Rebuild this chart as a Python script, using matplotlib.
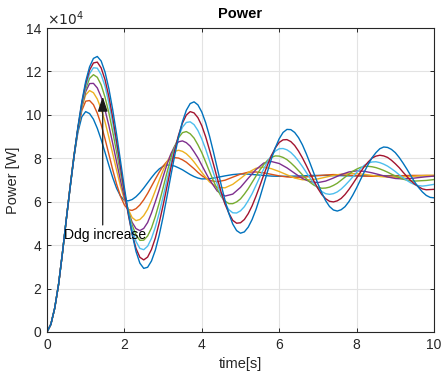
import numpy as np
import matplotlib
matplotlib.use("Agg")
import matplotlib.pyplot as plt

plt.rcParams['font.family'] = ['Liberation Sans', 'DejaVu Sans']

# sample times [s]
time_fine = np.round(np.arange(0, 10.01, 0.1), 2)
time_coarse = np.round(np.concatenate([np.arange(0, 4.01, 0.1), np.arange(4.2, 10.01, 0.2)]), 2)

# power traces, units of 1e4 W (Ddg increasing from p1 to p8)
# p1..p4 on time_coarse
p1 = [0, 0.35, 1.1, 2.2, 3.65, 5.2, 6.73, 8.11, 9.20, 9.91, 10.15,
      10.06, 9.80, 9.38, 8.86, 8.27, 7.67, 7.10, 6.61, 6.26, 6.06,
      6.04, 6.10, 6.23, 6.41, 6.63, 6.87, 7.11, 7.33, 7.51, 7.63, 7.69,
      7.68, 7.64, 7.56, 7.47, 7.36, 7.25, 7.16, 7.09, 7.05,
      7.06, 7.12, 7.19, 7.25, 7.28, 7.27, 7.24, 7.21, 7.18, 7.17, 7.17, 7.18, 7.19, 7.21, 7.21,
      7.21, 7.20, 7.20, 7.19, 7.19, 7.19, 7.20, 7.20, 7.20, 7.20, 7.20, 7.20, 7.20, 7.20, 7.20]
p2 = [0, 0.35, 1.1, 2.2, 3.65, 5.2, 6.75, 8.17, 9.35, 10.20, 10.63,
      10.66, 10.47, 10.08, 9.55, 8.89, 8.18, 7.46, 6.80, 6.25, 5.85, 5.63,
      5.60, 5.68, 5.85, 6.09, 6.38, 6.71, 7.04, 7.36, 7.64, 7.85, 7.98, 8.03,
      8.01, 7.93, 7.82, 7.67, 7.52, 7.35, 7.20,
      6.98, 6.92, 6.99, 7.13, 7.27, 7.36, 7.37, 7.33, 7.26, 7.19, 7.14, 7.12, 7.13, 7.16, 7.20,
      7.23, 7.25, 7.24, 7.22, 7.20, 7.18, 7.17, 7.17, 7.18, 7.19, 7.20, 7.21, 7.21, 7.21, 7.20]
p3 = [0, 0.35, 1.1, 2.2, 3.65, 5.2, 6.73, 8.16, 9.39, 10.33, 10.92, 11.12,
      11.02, 10.73, 10.27, 9.68, 8.96, 8.20, 7.44, 6.71, 6.09, 5.65, 5.27, 5.13,
      5.18, 5.36, 5.65, 6.05, 6.51, 6.99, 7.45, 7.84, 8.14, 8.32,
      8.37, 8.32, 8.21, 8.04, 7.83, 7.59, 7.35,
      6.91, 6.66, 6.64, 6.80, 7.07, 7.35, 7.54, 7.59, 7.52, 7.39, 7.24, 7.09, 7.01, 7.01, 7.05,
      7.13, 7.21, 7.27, 7.30, 7.29, 7.26, 7.21, 7.16, 7.13, 7.12, 7.14, 7.16, 7.19, 7.21, 7.22]
p4 = [0, 0.35, 1.1, 2.2, 3.65, 5.2, 6.70, 8.12, 9.36, 10.37, 11.07, 11.44,
      11.45, 11.24, 10.82, 10.22, 9.50, 8.67, 7.82, 6.97, 6.21, 5.55, 5.05, 4.76, 4.67,
      4.77, 5.04, 5.48, 6.00, 6.55, 7.15, 7.71, 8.20, 8.56, 8.76,
      8.80, 8.72, 8.56, 8.30, 8.02, 7.68,
      7.01, 6.49, 6.26, 6.35, 6.66, 7.08, 7.48, 7.78, 7.85, 7.76, 7.56, 7.31, 7.07, 6.92, 6.88,
      6.95, 7.09, 7.25, 7.37, 7.42, 7.40, 7.33, 7.24, 7.14, 7.07, 7.05, 7.07, 7.11, 7.15, 7.18]
# p5..p8 on time_fine
p5 = [0, 0.35, 1.1, 2.2, 3.65, 5.2, 6.68, 8.09, 9.34, 10.40, 11.19, 11.68, 11.85,
      11.73, 11.38, 10.81, 10.09, 9.21, 8.27, 7.31, 6.40, 5.59, 4.93, 4.47, 4.22,
      4.23, 4.42, 4.79, 5.32, 5.95, 6.64, 7.34, 8.00, 8.55, 8.95, 9.18,
      9.23, 9.13, 8.93, 8.62, 8.26,
      7.83, 7.39, 6.96, 6.58, 6.24, 6.03, 5.91, 5.91, 5.99, 6.13,
      6.35, 6.60, 6.89, 7.18, 7.46, 7.71, 7.91, 8.04, 8.11, 8.10,
      8.04, 7.94, 7.79, 7.62, 7.43, 7.24, 7.06, 6.89, 6.76, 6.67,
      6.62, 6.63, 6.67, 6.75, 6.85, 6.99, 7.13, 7.26, 7.40, 7.50,
      7.58, 7.62, 7.63, 7.61, 7.57, 7.51, 7.44, 7.36, 7.27, 7.19,
      7.11, 7.04, 6.99, 6.96, 6.95, 6.96, 6.97, 6.98, 7.00, 7.02]
p6 = [0, 0.35, 1.1, 2.2, 3.65, 5.2, 6.67, 8.08, 9.36, 10.45, 11.31, 11.89, 12.17,
      12.15, 11.85, 11.32, 10.53, 9.62, 8.59, 7.50, 6.47, 5.52, 4.76, 4.17, 3.85,
      3.79, 3.95, 4.31, 4.83, 5.48, 6.23, 7.00, 7.76, 8.45, 9.01, 9.43, 9.65,
      9.68, 9.55, 9.28, 8.89,
      8.42, 7.88, 7.33, 6.80, 6.31, 5.91, 5.63, 5.49, 5.48, 5.58,
      5.77, 6.05, 6.37, 6.75, 7.14, 7.51, 7.85, 8.14, 8.33, 8.44,
      8.45, 8.39, 8.27, 8.09, 7.87, 7.62, 7.35, 7.08, 6.84, 6.63,
      6.47, 6.37, 6.34, 6.37, 6.45, 6.58, 6.75, 6.94, 7.14, 7.34,
      7.52, 7.68, 7.78, 7.83, 7.84, 7.80, 7.73, 7.64, 7.52, 7.39,
      7.24, 7.11, 6.98, 6.87, 6.79, 6.74, 6.72, 6.74, 6.77, 6.80]
p7 = [0, 0.35, 1.1, 2.2, 3.65, 5.2, 6.69, 8.11, 9.41, 10.54, 11.43, 12.06, 12.39,
      12.43, 12.16, 11.62, 10.83, 9.86, 8.76, 7.60, 6.45, 5.41, 4.52, 3.85, 3.44, 3.32,
      3.45, 3.80, 4.33, 5.03, 5.83, 6.69, 7.55, 8.37, 9.07, 9.62, 9.99, 10.15,
      10.09, 9.87, 9.50,
      8.99, 8.38, 7.74, 7.08, 6.44, 5.89, 5.47, 5.14, 5.01, 5.03,
      5.18, 5.45, 5.81, 6.25, 6.73, 7.23, 7.70, 8.13, 8.48, 8.73,
      8.85, 8.86, 8.77, 8.59, 8.33, 8.02, 7.67, 7.30, 6.94, 6.61,
      6.33, 6.14, 6.02, 5.99, 6.04, 6.15, 6.33, 6.56, 6.82, 7.09,
      7.36, 7.62, 7.83, 8.01, 8.10, 8.14, 8.11, 8.04, 7.91, 7.75,
      7.57, 7.36, 7.16, 6.97, 6.81, 6.69, 6.59, 6.55, 6.56, 6.57]
p8 = [0, 0.35, 1.1, 2.2, 3.65, 5.2, 6.70, 8.13, 9.46, 10.61, 11.54, 12.21, 12.60,
      12.69, 12.48, 11.97, 11.20, 10.22, 9.09, 7.87, 6.65, 5.51, 4.51, 3.71, 3.17, 2.93,
      2.98, 3.27, 3.77, 4.46, 5.30, 6.23, 7.19, 8.13, 8.98, 9.69, 10.21, 10.52,
      10.60, 10.46, 10.13,
      9.64, 9.02, 8.30, 7.54, 6.78, 6.06, 5.45, 4.97, 4.67, 4.55,
      4.61, 4.83, 5.18, 5.64, 6.19, 6.79, 7.40, 7.98, 8.49, 8.90,
      9.19, 9.33, 9.32, 9.19, 8.95, 8.62, 8.21, 7.76, 7.29, 6.83,
      6.41, 6.05, 5.78, 5.62, 5.57, 5.63, 5.77, 6.00, 6.30, 6.64,
      7.01, 7.38, 7.72, 8.03, 8.26, 8.44, 8.52, 8.50, 8.41, 8.26,
      8.04, 7.78, 7.50, 7.20, 6.91, 6.66, 6.45, 6.29, 6.20, 6.18]

series = [(time_coarse, p1), (time_coarse, p2), (time_coarse, p3), (time_coarse, p4),
          (time_fine, p5), (time_fine, p6), (time_fine, p7), (time_fine, p8)]
# MATLAB default line colour order
colors = ['#0072BD', '#D95319', '#EDB120', '#7E2F8E', '#77AC30', '#4DBEEE', '#A2142F', '#0072BD']

fig = plt.figure(figsize=(4.42, 3.75), dpi=100)
ax = fig.add_axes([0.1063, 0.1147, 0.8756, 0.8106])

for (t, p), c in zip(series, colors):
    ax.plot(t, p, color=c, lw=1.0)

ax.set_xlim(0, 10)
ax.set_ylim(0, 14)
ax.set_xticks(np.arange(0, 11, 2))
ax.set_yticks(np.arange(0, 15, 2))
ax.grid(True, color='#e3e3e3', lw=0.8)
ax.set_axisbelow(True)
ax.tick_params(direction='in', length=3, width=0.7, top=True, right=True,
               labelsize=10, colors='0.15', pad=4)
for s in ax.spines.values():
    s.set_color('0.15')
    s.set_linewidth(0.8)

ax.set_title('Power', fontsize=10.5, fontweight='bold', pad=7)
ax.set_xlabel('time[s]', fontsize=10.5, color='0.15', labelpad=4)
ax.set_ylabel('Power [W]', fontsize=10.5, color='0.15', labelpad=4)
ax.text(0.0, 1.0, r'$\times10^{4}$', transform=ax.transAxes, fontsize=10,
        ha='left', va='bottom', color='0.15')

ax.annotate('', xy=(1.44, 10.84), xytext=(1.44, 4.93),
            arrowprops=dict(arrowstyle='-|>,head_length=0.9,head_width=0.3',
                            color='0.1', lw=0.9, shrinkA=0, shrinkB=0))
ax.text(0.45, 4.47, 'Ddg increase', fontsize=10, ha='left', va='center', zorder=5)

fig.savefig('out.png', dpi=100)
